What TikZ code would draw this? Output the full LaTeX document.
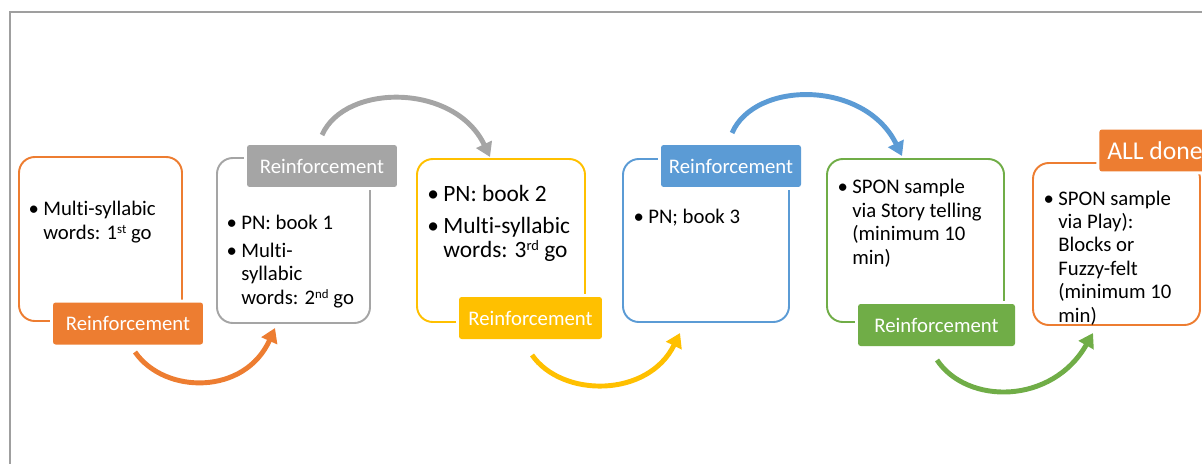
\documentclass[tikz,border=0pt]{standalone}
\usepackage{fontspec}
\setmainfont{Carlito}[Ligatures={NoCommon}]
\usetikzlibrary{arrows.meta}
\definecolor{orng}{HTML}{ED7D31}
\definecolor{gry}{HTML}{A5A5A5}
\definecolor{yel}{HTML}{FFC000}
\definecolor{blu}{HTML}{5B9BD5}
\definecolor{grn}{HTML}{70AD47}
\newcommand{\bul}{\llap{\textbullet\hspace{2.5pt}}}
\newcommand{\ord}[1]{\raisebox{0.55ex}{\fontsize{0.62em}{1em}\selectfont #1}}

\begin{document}
\begin{tikzpicture}[x=0.02cm, y=-0.02cm,
    box/.style={line width=1.1pt, rounded corners=9pt},
    lab/.style={text=white, font=\fontsize{11.8}{13}\selectfont, rounded corners=1.5pt,
        minimum height=0.84cm, inner sep=0pt, preaction={draw=white, line width=3.4pt}},
    txt/.style={anchor=base west, align=left, inner sep=0pt, font=\fontsize{11.8}{13.3}\selectfont},
    cyc/.style={line width=2.8pt, -{Triangle[length=8pt, width=9.5pt]}}]
        \useasboundingbox (0,0) rectangle (1202,463);
        % frame
        \draw[gray!75, line width=0.6pt] (10,480) -- (10,12) -- (1220,12);

        % step boxes
        \draw[box, orng] (19,157) rectangle (182,321);
        \draw[box, gry] (217,158) rectangle (370,323);
        \draw[box, yel] (417,159) rectangle (585,322);
        \draw[box, blu] (623,159) rectangle (789,322);
        \draw[box, grn] (827,159) rectangle (1004,322);
        \draw[box, orng] (1033,163) rectangle (1200,325);

        % reinforcement labels
        \node[lab, fill=orng, minimum width=3cm] (lab1) at (128,323.5) {Reinforcement};
        \node[lab, fill=gry, minimum width=3cm] (lab2) at (322,166) {Reinforcement};
        \node[lab, fill=yel, minimum width=2.86cm] (lab3) at (530.5,318) {Reinforcement};
        \node[lab, fill=blu, minimum width=2.8cm] (lab4) at (731,166) {Reinforcement};
        \node[lab, fill=grn, minimum width=3.14cm] (lab5) at (936.5,325) {Reinforcement};
        \node[lab, fill=orng, anchor=west, inner xsep=4.5pt, font=\fontsize{14.6}{16}\selectfont] (lab6) at (1099,150.5) {ALL done};

        % box contents (anchored at the last line)
        \node[txt] (t1) at (43,239) {\bul Multi-syllabic\\words: 1\ord{st} go};
        \node[txt] (t2) at (241,304) {\bul PN: book 1\\[2.3pt]\bul Multi-\\syllabic\\words: 2\ord{nd} go};
        \node[txt, font=\fontsize{13.3}{13.6}\selectfont] (t3) at (443,257) {\bul PN: book 2\\[4.5pt]\bul Multi-syllabic\\words: 3\ord{rd} go};
        \node[txt] (t4) at (648,223) {\bul PN; book 3};
        \node[txt] (t5) at (852,264) {\bul SPON sample\\via Story telling\\(minimum 10\\min)};
        \node[txt] (t6) at (1058,322) {\bul SPON sample\\via Play):\\Blocks or\\Fuzzy-felt\\(minimum 10\\min)};

        % cycle arrows
        \coordinate (a1s) at (135,352);  \coordinate (a1e) at (275,328);
        \coordinate (a2s) at (322,135);  \coordinate (a2e) at (490,157);
        \coordinate (a3s) at (532,355);  \coordinate (a3e) at (680,333);
        \coordinate (a4s) at (732,133);  \coordinate (a4e) at (902,156);
        \coordinate (a5s) at (937,360);  \coordinate (a5e) at (1093,333);
        \draw[cyc, orng] (a1s) .. controls (165,395) and (245,395) .. (a1e);
        \draw[cyc, gry] (a2s) .. controls (345,83) and (455,83) .. (a2e);
        \draw[cyc, yel] (a3s) .. controls (562,398) and (648,398) .. (a3e);
        \draw[cyc, blu] (a4s) .. controls (755,80) and (865,80) .. (a4e);
        \draw[cyc, grn] (a5s) .. controls (967,405) and (1052,405) .. (a5e);
\end{tikzpicture}
\end{document}
